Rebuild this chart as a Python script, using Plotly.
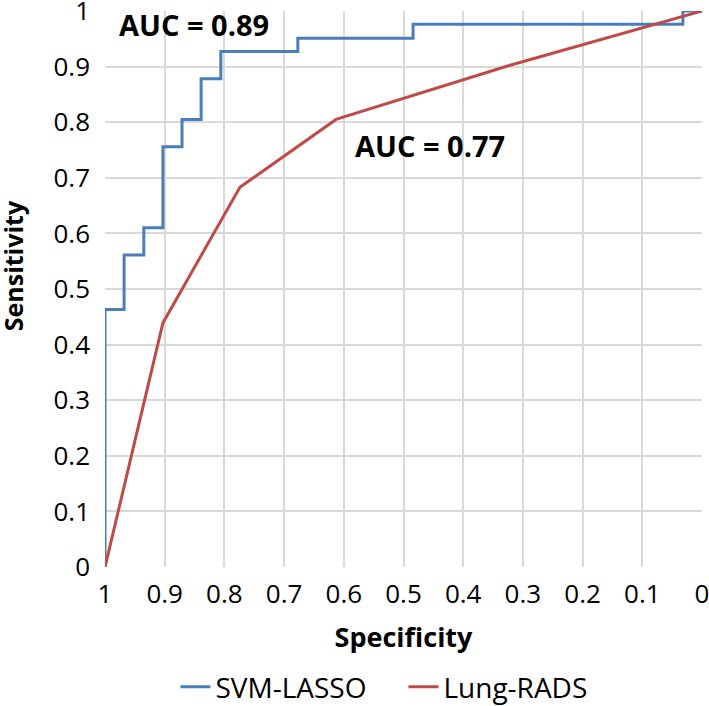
import plotly.graph_objects as go

# SVM-LASSO ROC (step curve), specificity vs sensitivity
svm_spec = [1, 1, 0.968, 0.968, 0.935, 0.935, 0.903, 0.903, 0.871, 0.871, 0.839, 0.839,
            0.806, 0.806, 0.677, 0.677, 0.484, 0.484, 0.032, 0.032, 0]
svm_sens = [0, 0.463, 0.463, 0.561, 0.561, 0.610, 0.610, 0.756, 0.756, 0.805, 0.805, 0.878,
            0.878, 0.927, 0.927, 0.951, 0.951, 0.976, 0.976, 1, 1]

# Lung-RADS ROC
lr_spec = [1, 0.903, 0.774, 0.613, 0.323, 0]
lr_sens = [0, 0.439, 0.683, 0.805, 0.902, 1]

x_ticks = [1, 0.9, 0.8, 0.7, 0.6, 0.5, 0.4, 0.3, 0.2, 0.1, 0]
x_ticktext = ["1", "0.9", "0.8", "0.7", "0.6", "0.5", "0.4", "0.3", "0.2", "0.1", "0"]
y_ticks = [0, 0.1, 0.2, 0.3, 0.4, 0.5, 0.6, 0.7, 0.8, 0.9, 1]
y_ticktext = ["0", "0.1", "0.2", "0.3", "0.4", "0.5", "0.6", "0.7", "0.8", "0.9", "1"]

FONT = "Open Sans"

fig = go.Figure()
fig.add_trace(go.Scatter(x=svm_spec, y=svm_sens, mode="lines", name="SVM-LASSO",
                         line=dict(color="#4a7ebb", width=3), cliponaxis=False))
fig.add_trace(go.Scatter(x=lr_spec, y=lr_sens, mode="lines", name="Lung-RADS",
                         line=dict(color="#be4b48", width=3), cliponaxis=False))

fig.add_annotation(x=0.98, y=0.975, xref="x", yref="y", text="<b>AUC = 0.89</b>",
                   showarrow=False, xanchor="left", yanchor="middle",
                   font=dict(family=FONT, size=29, color="#000000"))
fig.add_annotation(x=0.584, y=0.758, xref="x", yref="y", text="<b>AUC = 0.77</b>",
                   showarrow=False, xanchor="left", yanchor="middle",
                   font=dict(family=FONT, size=29, color="#000000"))
# y-axis title
fig.add_annotation(x=-0.154, y=0.541, xref="paper", yref="paper", text="<b>Sensitivity</b>",
                   showarrow=False, textangle=-90, xanchor="center", yanchor="middle",
                   font=dict(family=FONT, size=25, color="#000000"))

fig.update_layout(
    width=709, height=706,
    margin=dict(l=105, r=7, t=11, b=139, autoexpand=False),
    paper_bgcolor="white", plot_bgcolor="white",
    font=dict(family=FONT, size=24, color="#000000"),
    showlegend=True,
    legend=dict(orientation="h", x=0.118, xanchor="left", y=-0.216, yanchor="middle",
                font=dict(family=FONT, size=28), itemwidth=30, traceorder="normal",
                entrywidth=183, entrywidthmode="pixels"),
    xaxis=dict(range=[1, 0], tickvals=x_ticks, ticktext=x_ticktext,
               showgrid=True, gridcolor="#d9d9d9", gridwidth=1.5,
               zeroline=False, showline=False, ticks="", automargin=False,
               ticklabeloverflow="allow", ticklabelstandoff=9,
               title=dict(text="<b>Specificity</b>", font=dict(family=FONT, size=27), standoff=18),
               tickfont=dict(family=FONT, size=26)),
    yaxis=dict(range=[0, 1], tickvals=y_ticks, ticktext=y_ticktext,
               showgrid=True, gridcolor="#d9d9d9", gridwidth=1.5,
               zeroline=False, showline=False, ticks="", automargin=False,
               ticklabeloverflow="allow", ticklabelstandoff=14,
               tickfont=dict(family=FONT, size=26)),
)

fig.write_html("out.html", config={"displayModeBar": False},
               post_script="document.body.style.margin='0';document.body.style.overflow='hidden';")
